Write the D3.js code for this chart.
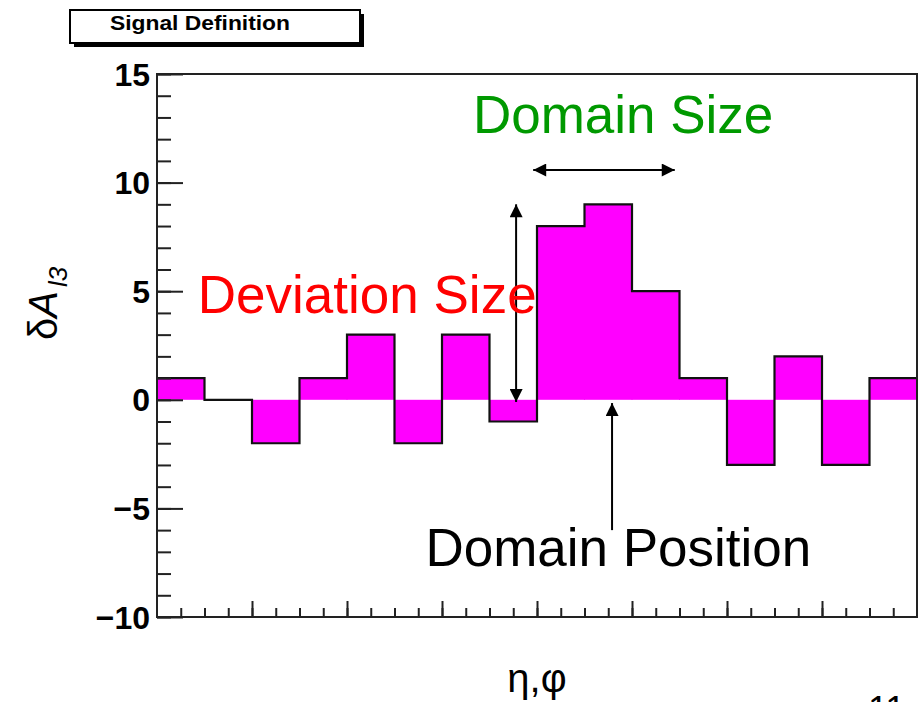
<!DOCTYPE html>
<html>
<head>
<meta charset="utf-8">
<script src="https://cdn.jsdelivr.net/npm/d3@7"></script>
<style>
  body { margin: 0; background: #fff; }
  text { font-family: "Liberation Sans", Arial, sans-serif; }
</style>
</head>
<body>
<div id="chart"></div>
<script>
// histogram bin contents (16 bins)
const binValues = [1, 0, -2, 1, 3, -2, 3, -1, 8, 9, 5, 1, -3, 2, -3, 1];
const yMajorTicks = [-10, -5, 0, 5, 10, 15];
const yMinorTicks = d3.range(-10, 16, 1);
const xMajorTicks = [2, 4, 6, 8, 10, 12, 14];
const xMinorTicks = d3.range(0.5, 16, 0.5);

function loadGraph() {
    let plotWidth = 922;
    let plotHeight = 702;

    let margin = { top: 74, right: 5, bottom: 85, left: 157 };
    let width = plotWidth - margin.left - margin.right;
    let height = plotHeight - margin.top - margin.bottom;

    let svg = d3.select("#chart")
        .append("svg")
        .attr("width", plotWidth)
        .attr("height", plotHeight);

    let defs = svg.append("defs");
    defs.append("marker")
        .attr("id", "head")
        .attr("viewBox", "0 0 10 10")
        .attr("refX", 10)
        .attr("refY", 5)
        .attr("markerUnits", "userSpaceOnUse")
        .attr("markerWidth", 15)
        .attr("markerHeight", 13)
        .attr("orient", "auto-start-reverse")
        .append("path")
        .attr("d", "M0,0 L10,5 L0,10 Z")
        .attr("fill", "#000");

    let graph = svg.append("g")
        .attr("transform", `translate(${margin.left}, ${margin.top})`);

    let xScale = d3.scaleLinear().domain([0, binValues.length]).range([0, width]);
    let yScale = d3.scaleLinear().domain([-10, 15]).range([height, 0]);

    // filled bins
    graph.selectAll("rect.bin")
        .data(binValues)
        .enter()
        .append("rect")
        .attr("class", "bin")
        .attr("x", (d, i) => xScale(i) - 0.5)
        .attr("width", (d, i) => xScale(i + 1) - xScale(i) + 1)
        .attr("y", d => yScale(Math.max(d, 0)))
        .attr("height", d => Math.abs(yScale(d) - yScale(0)))
        .attr("fill", "#ff00ff");

    // step outline
    let stepPts = [];
    binValues.forEach((v, i) => { stepPts.push([i, v]); stepPts.push([i + 1, v]); });
    graph.append("path")
        .attr("d", d3.line().x(d => xScale(d[0])).y(d => yScale(d[1]))(stepPts))
        .attr("fill", "none")
        .attr("stroke", "#111")
        .attr("stroke-width", 2.2);

    // axes
    let yMinor = d3.axisRight(yScale).tickValues(yMinorTicks).tickSize(14).tickFormat("");
    let yMajor = d3.axisRight(yScale).tickValues(yMajorTicks).tickSize(26).tickFormat("");
    let xMinor = d3.axisTop(xScale).tickValues(xMinorTicks).tickSize(9).tickFormat("");
    let xMajor = d3.axisTop(xScale).tickValues(xMajorTicks).tickSize(16).tickFormat("");

    [graph.append("g").call(yMinor), graph.append("g").call(yMajor),
     graph.append("g").attr("transform", `translate(0, ${height})`).call(xMinor),
     graph.append("g").attr("transform", `translate(0, ${height})`).call(xMajor)]
        .forEach(g => {
            g.select(".domain").remove();
            g.selectAll("line").attr("stroke", "#222").attr("stroke-width", 2);
        });

    graph.append("rect")
        .attr("width", width)
        .attr("height", height)
        .attr("fill", "none")
        .attr("stroke", "#222")
        .attr("stroke-width", 2);

    // y tick labels
    graph.selectAll("text.ylab")
        .data(yMajorTicks)
        .enter()
        .append("text")
        .attr("class", "ylab")
        .attr("x", -7)
        .attr("y", d => yScale(d))
        .attr("dy", "0.36em")
        .attr("text-anchor", "end")
        .attr("font-size", "32px")
        .attr("font-weight", "bold")
        .text(d => d3.format("d")(d));

    // annotations
    graph.append("line")
        .attr("x1", xScale(7.92)).attr("x2", xScale(10.9))
        .attr("y1", yScale(10.58)).attr("y2", yScale(10.58))
        .attr("stroke", "#000").attr("stroke-width", 2)
        .attr("marker-start", "url(#head)").attr("marker-end", "url(#head)");

    graph.append("line")
        .attr("x1", xScale(7.56)).attr("x2", xScale(7.56))
        .attr("y1", yScale(9.0)).attr("y2", yScale(-0.1))
        .attr("stroke", "#000").attr("stroke-width", 2)
        .attr("marker-start", "url(#head)").attr("marker-end", "url(#head)");

    graph.append("line")
        .attr("x1", xScale(9.58)).attr("x2", xScale(9.58))
        .attr("y1", yScale(-6.0)).attr("y2", yScale(-0.15))
        .attr("stroke", "#000").attr("stroke-width", 2)
        .attr("marker-end", "url(#head)");

    graph.append("text")
        .attr("x", xScale(6.65)).attr("y", yScale(12.3))
        .attr("font-size", "53px").attr("fill", "#009900")
        .text("Domain Size");

    graph.append("text")
        .attr("x", xScale(0.86)).attr("y", yScale(4.0))
        .attr("font-size", "53px").attr("fill", "#ff0000")
        .text("Deviation Size");

    graph.append("text")
        .attr("x", xScale(5.65)).attr("y", yScale(-7.65))
        .attr("font-size", "53px").attr("fill", "#000")
        .text("Domain Position");

    // axis titles
    svg.append("text")
        .attr("x", margin.left + width / 2)
        .attr("y", 692)
        .attr("text-anchor", "middle")
        .attr("font-size", "40px")
        .text("η,φ");

    let ylab = svg.append("text")
        .attr("transform", "translate(57, 340) rotate(-90)")
        .attr("font-size", "40px");
    ylab.append("tspan").text("δ");
    ylab.append("tspan").attr("font-style", "italic").text("A");
    ylab.append("tspan").attr("font-style", "italic").attr("font-size", "26px")
        .attr("dx", 4).attr("dy", 10).text("l3");

    // title box
    svg.append("rect").attr("x", 74).attr("y", 14).attr("width", 290).attr("height", 33).attr("fill", "#000");
    svg.append("rect").attr("x", 70).attr("y", 10).attr("width", 290).attr("height", 33)
        .attr("fill", "#fff").attr("stroke", "#000").attr("stroke-width", 2);
    svg.append("text")
        .attr("x", 110).attr("y", 30)
        .attr("font-size", "20px").attr("font-weight", "bold")
        .attr("textLength", 180)
        .attr("lengthAdjust", "spacingAndGlyphs")
        .text("Signal Definition");

    // page number, cut off at the bottom
    svg.append("text")
        .attr("x", 868).attr("y", 722)
        .attr("font-size", "36px")
        .text("11");
}

loadGraph();
</script>
</body>
</html>
